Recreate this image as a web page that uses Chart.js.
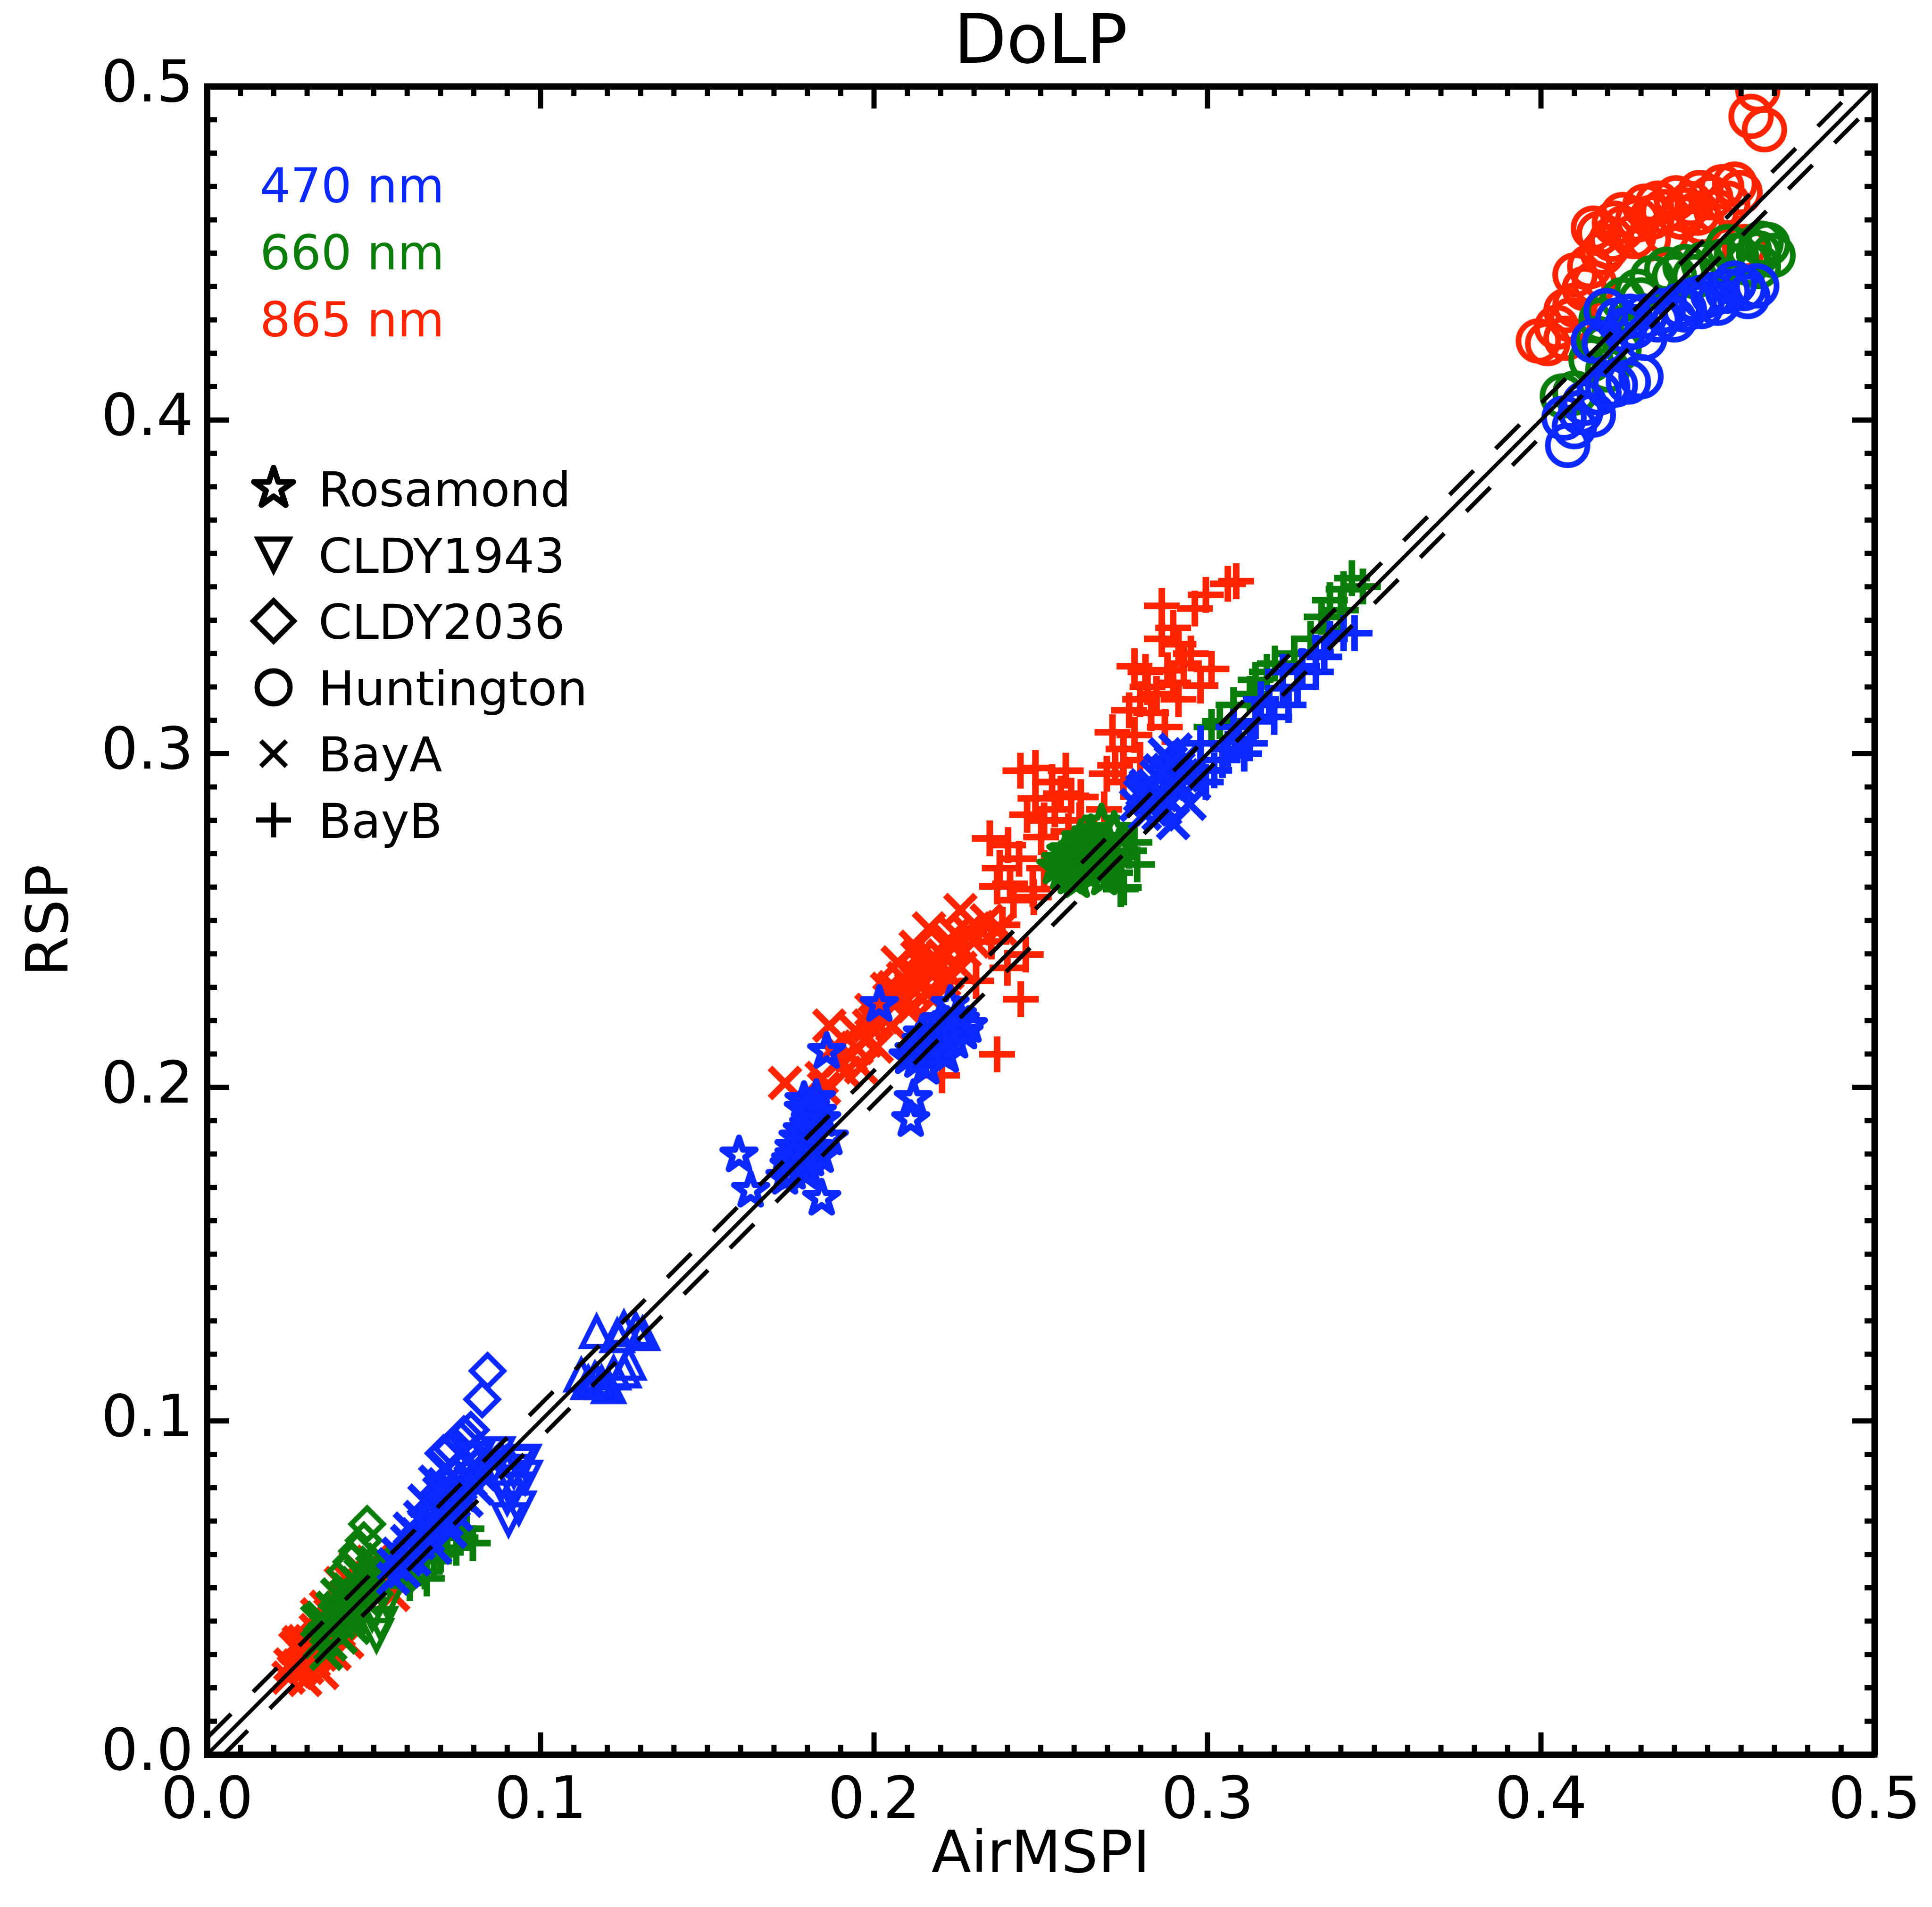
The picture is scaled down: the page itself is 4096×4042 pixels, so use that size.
<!DOCTYPE html>
<html><head><meta charset="utf-8">
<script src="https://cdn.jsdelivr.net/npm/chart.js@4.4.1/dist/chart.umd.min.js"></script>
<style>html,body{margin:0;padding:0;background:#fff;}canvas{display:block;}</style>
</head><body>
<canvas id="c" width="4096" height="4042"></canvas>
<script>
// ---------------- data (AirMSPI x, RSP y) ----------------
const oneToOne   = [[0,0],[0.5,0.5]];
const upperBound = [[0,0.005],[0.495,0.5]];
const lowerBound = [[0.005,0],[0.5,0.495]];

const wavelengthLabels = ['470 nm','660 nm','865 nm'];
const siteLabels = ['Rosamond','CLDY1943','CLDY2036','Huntington','BayA','BayB'];
const axisTicks = [0.0,0.1,0.2,0.3,0.4,0.5];

const rosamondBlue = [[0.1595,0.1797],[0.1630,0.1691],[0.1843,0.1667],[0.1858,0.2107],[0.2016,0.2248],[0.2118,0.1966],[0.2110,0.1903],
 [0.1788,0.1934],[0.1804,0.1887],[0.1827,0.1966],[0.1772,0.1848],[0.1756,0.1745],[0.1733,0.1730],[0.1866,0.1848],[0.1811,0.1785],
 [0.1843,0.1903],[0.1780,0.1800],[0.1790,0.1960],[0.1750,0.1780],[0.1820,0.1820],[0.1800,0.1760],[0.1760,0.1820],
 [0.2141,0.2138],[0.2102,0.2091],[0.2181,0.2170],[0.2220,0.2185],[0.2259,0.2201],[0.2196,0.2107],[0.2243,0.2138],[0.2228,0.2248],
 [0.2157,0.2060],[0.2283,0.2185],[0.2170,0.2120],[0.2210,0.2150],[0.2130,0.2080],[0.2200,0.2200],
 [0.1745,0.1765],[0.1775,0.1790],[0.1795,0.1830],[0.1815,0.1870],[0.1830,0.1925],[0.1810,0.1940],[0.1785,0.1870],[0.1760,0.1795],
 [0.1840,0.1795],[0.1795,0.1745],[0.2165,0.2105],[0.2190,0.2135],[0.2235,0.2170],[0.2270,0.2165],[0.2215,0.2095],[0.2145,0.2160],
 [0.2250,0.2215],[0.2120,0.2110]];
const rosamondGreen = [[0.2583,0.2709],[0.2624,0.2668],[0.2649,0.2751],[0.2682,0.2792],[0.2715,0.2685],[0.2690,0.2627],[0.2608,0.2619],
 [0.2567,0.2643],[0.2666,0.2685],[0.2600,0.2700],[0.2640,0.2720],[0.2700,0.2740],[0.2630,0.2650],[0.2560,0.2680],[0.2720,0.2770],
 [0.2575,0.2705],[0.2610,0.2690],[0.2655,0.2700],[0.2690,0.2715],[0.2620,0.2745],[0.2670,0.2650],[0.2700,0.2660],[0.2590,0.2630],
 [0.2735,0.2720],[0.2650,0.2760],[0.2545,0.2660]];

const cldy1943Blue = [[0.0935,0.0874],[0.0923,0.0797],[0.0935,0.0740],[0.0904,0.0705],[0.0885,0.0818],[0.0954,0.0832],[0.0872,0.0903],
 [0.0810,0.0889],[0.0900,0.0770],[0.0920,0.0850],[0.0860,0.0860],[0.0950,0.0880]];
const cldy1943BlueUp = [[0.1168,0.1267],[0.1250,0.1279],[0.1286,0.1273],[0.1306,0.1261],[0.1230,0.1255],[0.1122,0.1137],[0.1163,0.1126],
 [0.1250,0.1149],[0.1183,0.1114],[0.1219,0.1143],[0.1265,0.1172],[0.1168,0.1120],[0.1204,0.1102],[0.1143,0.1114]];
const cldy1943Green = [[0.0508,0.0358],[0.0520,0.0394],[0.0495,0.0422],[0.0540,0.0460]];

const cldy2036Blue = [[0.0841,0.1150],[0.0825,0.1065],[0.0791,0.0973],[0.0759,0.0945],[0.0734,0.0917],[0.0709,0.0903],[0.0770,0.0960]];
const cldy2036Green = [[0.0480,0.0691],[0.0470,0.0642],[0.0433,0.0578],[0.0414,0.0549],[0.0450,0.0610]];

const huntingtonBlue = [[0.4647,0.4402],[0.4608,0.4394],[0.4559,0.4386],[0.4515,0.4377],[0.4487,0.4369],[0.4460,0.4361],[0.4416,0.4344],
 [0.4366,0.4328],[0.4311,0.4311],[0.4267,0.4311],[0.4195,0.4328],[0.4157,0.4237],[0.4311,0.4245],[0.4300,0.4130],[0.4262,0.4114],
 [0.4223,0.4105],[0.4174,0.4081],[0.4119,0.4023],[0.4069,0.4006],[0.4080,0.3924],[0.4157,0.4015],[0.4100,0.3980],[0.4130,0.4050],
 [0.4400,0.4300],[0.4530,0.4350],[0.4250,0.4270],
 [0.4580,0.4410],[0.4620,0.4370],[0.4480,0.4340],[0.4430,0.4330],[0.4350,0.4300],[0.4280,0.4280],[0.4230,0.4300],[0.4190,0.4230],
 [0.4200,0.4100]];
const huntingtonGreen = [[0.4680,0.4526],[0.4696,0.4493],[0.4652,0.4501],[0.4652,0.4460],[0.4625,0.4509],[0.4586,0.4493],[0.4542,0.4476],
 [0.4487,0.4468],[0.4432,0.4460],[0.4377,0.4452],[0.4333,0.4427],[0.4289,0.4386],[0.4245,0.4361],[0.4201,0.4328],[0.4168,0.4245],
 [0.4190,0.4221],[0.4234,0.4212],[0.4064,0.4072],[0.4102,0.4081],[0.4150,0.4180],[0.4200,0.4150],
 [0.4560,0.4520],[0.4620,0.4470],[0.4460,0.4430],[0.4400,0.4430],[0.4300,0.4360],[0.4180,0.4300],[0.4660,0.4530]];
const huntingtonRed = [[0.4650,0.4990],[0.4630,0.4910],[0.4670,0.4870],
 [0.3992,0.4237],[0.4020,0.4229],[0.4075,0.4245],[0.4047,0.4278],[0.4075,0.4328],[0.4102,0.4344],[0.4130,0.4394],[0.4102,0.4435],
 [0.4146,0.4460],[0.4185,0.4501],[0.4157,0.4575],[0.4174,0.4559],[0.4212,0.4542],[0.4245,0.4575],[0.4245,0.4616],[0.4278,0.4550],
 [0.4322,0.4542],[0.4311,0.4641],[0.4333,0.4608],[0.4366,0.4625],[0.4377,0.4559],[0.4405,0.4666],[0.4421,0.4608],[0.4449,0.4649],
 [0.4476,0.4682],[0.4482,0.4592],[0.4509,0.4666],[0.4526,0.4625],[0.4542,0.4699],[0.4581,0.4707],[0.4597,0.4682],[0.4610,0.4520],
 [0.4220,0.4590],[0.4290,0.4600],[0.4350,0.4650],[0.4430,0.4630],[0.4560,0.4650],[0.4470,0.4620],[0.4160,0.4410],[0.4090,0.4300],
 [0.4200,0.4520]];

const bayABlue = [[0.2798,0.2874],[0.2847,0.2932],[0.2872,0.2998],[0.2913,0.2957],[0.2831,0.2833],[0.2897,0.2792],[0.2946,0.2850],
 [0.2815,0.2905],[0.2862,0.2876],[0.2884,0.2951],[0.2921,0.2903],[0.2853,0.2818],[0.2904,0.3012],[0.2952,0.2941],[0.2826,0.2862],
 [0.2873,0.2834],[0.2786,0.2846],[0.2935,0.2987],
 [0.2805,0.2890],[0.2838,0.2905],[0.2858,0.2950],[0.2890,0.2975],[0.2925,0.2935],[0.2880,0.2865],[0.2842,0.2870],[0.2895,0.2912],
 [0.2812,0.2820],[0.2960,0.2910],
 [0.0558,0.0528],[0.0596,0.0585],[0.0634,0.0634],[0.0671,0.0691],[0.0703,0.0747],[0.0734,0.0804],[0.0778,0.0846],[0.0810,0.0861],
 [0.0841,0.0889],[0.0652,0.0761],[0.0684,0.0818],[0.0715,0.0860],[0.0608,0.0677],[0.0747,0.0719],[0.0778,0.0761],[0.0684,0.0620],
 [0.0810,0.0797],[0.0590,0.0549],[0.0621,0.0585],[0.0662,0.0655],[0.0718,0.0702],[0.0757,0.0778],[0.0639,0.0712],[0.0573,0.0602],
 [0.0696,0.0785],[0.0790,0.0820],[0.0729,0.0668],
 [0.0600,0.0640],[0.0650,0.0690],[0.0700,0.0740],[0.0740,0.0760],[0.0760,0.0810],[0.0820,0.0840],[0.0680,0.0700],[0.0630,0.0660],
 [0.0710,0.0810],[0.0780,0.0880],[0.0860,0.0880],[0.0560,0.0570]];
const bayAGreen = [[0.0338,0.0337],[0.0382,0.0408],[0.0420,0.0479],[0.0451,0.0514],[0.0495,0.0549],[0.0527,0.0585],[0.0432,0.0408],
 [0.0470,0.0465],[0.0401,0.0351],[0.0357,0.0302],[0.0360,0.0380],[0.0400,0.0440],[0.0440,0.0450],[0.0480,0.0500],[0.0390,0.0480],
 [0.0330,0.0400],[0.0510,0.0520],[0.0460,0.0540],[0.0370,0.0330],
 [0.0350,0.0350],[0.0395,0.0395],[0.0415,0.0430],[0.0455,0.0480],[0.0490,0.0520],[0.0505,0.0575],[0.0425,0.0495],[0.0375,0.0440],
 [0.0440,0.0380],[0.0465,0.0430],[0.0345,0.0410],[0.0550,0.0560],[0.0580,0.0540],[0.0600,0.0560]];
const bayARed = [[0.1733,0.2013],[0.1843,0.2028],[0.1882,0.2122],[0.1944,0.2170],[0.1992,0.2232],[0.2039,0.2295],[0.2087,0.2327],
 [0.2125,0.2421],[0.2180,0.2390],[0.2228,0.2437],[0.2259,0.2531],[0.2338,0.2500],[0.2377,0.2476],[0.2220,0.2343],[0.2149,0.2311],
 [0.2102,0.2232],[0.2055,0.2185],[0.2008,0.2122],[0.1961,0.2060],[0.1913,0.2044],[0.1866,0.2185],[0.2180,0.2264],[0.2259,0.2358],
 [0.2298,0.2437],[0.1850,0.1997],[0.2165,0.2476],[0.2071,0.2374],[0.2003,0.2196],[0.2046,0.2262],[0.2112,0.2297],[0.2148,0.2362],
 [0.2207,0.2395],[0.2243,0.2462],[0.1948,0.2118],[0.2118,0.2243],[0.2272,0.2408],
 [0.1900,0.2080],[0.1975,0.2140],[0.2025,0.2210],[0.2085,0.2270],[0.2135,0.2330],[0.2190,0.2350],[0.2240,0.2420],[0.2280,0.2470],
 [0.2060,0.2300],[0.2160,0.2280],[0.2210,0.2320],[0.1985,0.2185],[0.1930,0.2095],[0.2130,0.2390],[0.2310,0.2480],
 [0.0244,0.0231],[0.0275,0.0267],[0.0307,0.0302],[0.0326,0.0373],[0.0357,0.0443],[0.0401,0.0514],[0.0446,0.0564],[0.0495,0.0578],
 [0.0382,0.0302],[0.0420,0.0337],[0.0294,0.0224],[0.0527,0.0514],[0.0558,0.0479],[0.0275,0.0337],[0.0250,0.0270],[0.0300,0.0260],
 [0.0340,0.0300],[0.0360,0.0360],[0.0380,0.0400],[0.0330,0.0420],[0.0290,0.0340],
 [0.0260,0.0250],[0.0285,0.0300],[0.0310,0.0340],[0.0320,0.0280],[0.0350,0.0320],[0.0370,0.0420],[0.0410,0.0470],[0.0430,0.0520],
 [0.0470,0.0540],[0.0510,0.0560],[0.0540,0.0530],[0.0395,0.0370],[0.0345,0.0245],[0.0265,0.0320],[0.0420,0.0410]];

const bayBBlue = [[0.2995,0.2915],[0.3045,0.2981],[0.3094,0.3039],[0.3144,0.3097],[0.3185,0.3146],[0.3226,0.3196],[0.3284,0.3262],
 [0.3325,0.3303],[0.3367,0.3344],[0.3408,0.3361],[0.3325,0.3245],[0.3243,0.3146],[0.3127,0.3031],[0.3061,0.3014],[0.2979,0.3031],
 [0.3078,0.3080],[0.3160,0.3163],[0.3226,0.3245],[0.3020,0.2950],[0.3110,0.3000],[0.3200,0.3110],[0.3270,0.3200],[0.3350,0.3290],
 [0.3441,0.3361]];
const bayBGreen = [[0.3433,0.3526],[0.3408,0.3493],[0.3466,0.3501],[0.3367,0.3460],[0.3342,0.3410],[0.3309,0.3344],[0.3358,0.3369],
 [0.3202,0.3270],[0.3178,0.3245],[0.3144,0.3221],[0.3127,0.3179],[0.3078,0.3146],[0.3037,0.3097],[0.3012,0.3080],[0.2765,0.2709],
 [0.2789,0.2668],[0.2740,0.2594],[0.2781,0.2734],[0.2723,0.2643],[0.2749,0.2599],[0.3260,0.3300],[0.3400,0.3430],
 [0.0747,0.0620],[0.0797,0.0634],[0.0778,0.0677],[0.0653,0.0549],[0.0608,0.0514],[0.0659,0.0528],
 [0.0700,0.0600],[0.0720,0.0650],[0.0680,0.0580],[0.0760,0.0650]];
const bayBRed = [[0.3086,0.3517],[0.3061,0.3509],[0.2995,0.3476],[0.2962,0.3435],[0.2863,0.3443],[0.2897,0.3377],[0.2863,0.3344],
 [0.2913,0.3328],[0.2781,0.3262],[0.2814,0.3245],[0.2929,0.3270],[0.3012,0.3254],[0.2979,0.3204],[0.2897,0.3212],[0.2847,0.3179],
 [0.2798,0.3163],[0.2765,0.3130],[0.2831,0.3122],[0.2872,0.3080],[0.2715,0.3064],[0.2781,0.3056],[0.2748,0.3014],[0.2798,0.2981],
 [0.2723,0.2965],[0.2698,0.2940],[0.2748,0.2915],[0.2913,0.3163],
 [0.2484,0.2957],[0.2575,0.2949],[0.2534,0.2915],[0.2591,0.2874],[0.2484,0.2866],[0.2459,0.2817],[0.2542,0.2833],[0.2616,0.2800],
 [0.2690,0.2833],[0.2402,0.2726],[0.2501,0.2750],[0.2583,0.2767],[0.2435,0.2685],[0.2369,0.2602],[0.2476,0.2594],[0.2418,0.2561],
 [0.2385,0.2487],[0.2352,0.2437],
 [0.2440,0.2264],[0.2369,0.2099],[0.2455,0.2398],[0.2408,0.2610],[0.2479,0.2570],[0.2510,0.2657],[0.2377,0.2657],[0.2400,0.2358],
 [0.2204,0.2036],[0.2306,0.2319],[0.2347,0.2746],[0.2439,0.2949],
 [0.2880,0.3250],[0.2950,0.3300],[0.2820,0.3200],[0.2560,0.2880],[0.2510,0.2800],[0.2620,0.2870]];

// ---------------- styles ----------------
const BLUE = '#0a28ff', GREEN = '#0b7d0b', RED = '#ff2400';
const wavelengthColors = [BLUE, GREEN, RED];
const FONT = "'DejaVu Sans', sans-serif";

function marker(shape, color, size, lw) {
  const pad = lw * 2 + 4;
  const dim = Math.ceil(2 * size + 2 * pad);
  const c = document.createElement('canvas');
  c.width = dim; c.height = dim;
  const g = c.getContext('2d');
  g.translate(dim / 2, dim / 2);
  g.strokeStyle = color; g.lineWidth = lw; g.lineCap = 'butt'; g.lineJoin = 'miter';
  g.beginPath();
  if (shape === 'circle') { g.arc(0, 0, size, 0, 2 * Math.PI); }
  else if (shape === 'star') {
    g.lineJoin = 'round';
    for (let i = 0; i < 10; i++) {
      const r = i % 2 ? size * 0.382 : size;
      const a = -Math.PI / 2 + i * Math.PI / 5;
      const px = r * Math.cos(a), py = r * Math.sin(a);
      if (i) g.lineTo(px, py); else g.moveTo(px, py);
    }
    g.closePath();
  }
  else if (shape === 'triUp') { g.moveTo(0, -size); g.lineTo(size, size); g.lineTo(-size, size); g.closePath(); }
  else if (shape === 'triDown') { g.moveTo(0, size); g.lineTo(size, -size); g.lineTo(-size, -size); g.closePath(); }
  else if (shape === 'diamond') { g.moveTo(0, -size); g.lineTo(size, 0); g.lineTo(0, size); g.lineTo(-size, 0); g.closePath(); }
  else if (shape === 'x') { g.moveTo(-size, -size); g.lineTo(size, size); g.moveTo(size, -size); g.lineTo(-size, size); }
  else if (shape === 'plus') { g.moveTo(-size, 0); g.lineTo(size, 0); g.moveTo(0, -size); g.lineTo(0, size); }
  g.stroke();
  return c;
}
const SZ = {star: [37, 13], triUp: [31, 11], triDown: [31, 11], diamond: [34, 11], circle: [42, 12], x: [32, 14], plus: [38, 14]};
function mk(shape, color) { return marker(shape, color, SZ[shape][0], SZ[shape][1]); }

const toXY = arr => arr.map(p => ({x: p[0], y: p[1]}));
const datasets = [];
function addLine(arr, dashed) {
  datasets.push({label: dashed ? 'bound' : '1:1', data: toXY(arr), showLine: true, borderColor: '#000',
    borderWidth: dashed ? 9 : 8, borderDash: dashed ? [72, 66] : [], pointRadius: 0, clip: 0, fill: false});
}
function addPts(label, arr, shape, color) {
  datasets.push({label, data: toXY(arr), showLine: false, pointStyle: mk(shape, color), pointRadius: 5, clip: 0});
}
addLine(oneToOne, false);
addLine(upperBound, true);
addLine(lowerBound, true);
// blue on top, then green, then red
addPts('Rosamond 470', rosamondBlue, 'star', BLUE);
addPts('CLDY1943 470', cldy1943Blue, 'triDown', BLUE);
addPts('CLDY1943 470b', cldy1943BlueUp, 'triUp', BLUE);
addPts('CLDY2036 470', cldy2036Blue, 'diamond', BLUE);
addPts('Huntington 470', huntingtonBlue, 'circle', BLUE);
addPts('BayA 470', bayABlue, 'x', BLUE);
addPts('BayB 470', bayBBlue, 'plus', BLUE);
addPts('Rosamond 660', rosamondGreen, 'star', GREEN);
addPts('CLDY1943 660', cldy1943Green, 'triDown', GREEN);
addPts('CLDY2036 660', cldy2036Green, 'diamond', GREEN);
addPts('Huntington 660', huntingtonGreen, 'circle', GREEN);
addPts('BayA 660', bayAGreen, 'x', GREEN);
addPts('BayB 660', bayBGreen, 'plus', GREEN);
addPts('Huntington 865', huntingtonRed, 'circle', RED);
addPts('BayA 865', bayARed, 'x', RED);
addPts('BayB 865', bayBRed, 'plus', RED);

const legendMarkers = [
  marker('star', '#000', 44, 12), marker('triDown', '#000', 33, 11), marker('diamond', '#000', 43, 11),
  marker('circle', '#000', 35, 11), marker('x', '#000', 27, 10), marker('plus', '#000', 37, 11)];

const framePlugin = {
  id: 'frameTicks',
  afterDraw(chart) {
    const ctx = chart.ctx, xs = chart.scales.x, ys = chart.scales.y, a = chart.chartArea;
    ctx.save();
    ctx.strokeStyle = '#000'; ctx.lineCap = 'butt';
    ctx.lineWidth = 11;
    for (let i = 0; i <= 50; i++) {
      const v = i / 100, L = (i % 10 === 0) ? 47 : 21;
      const px = xs.getPixelForValue(v), py = ys.getPixelForValue(v);
      ctx.beginPath();
      ctx.moveTo(px, a.bottom); ctx.lineTo(px, a.bottom - L);
      ctx.moveTo(px, a.top); ctx.lineTo(px, a.top + L);
      ctx.moveTo(a.left, py); ctx.lineTo(a.left + L, py);
      ctx.moveTo(a.right, py); ctx.lineTo(a.right - L, py);
      ctx.stroke();
    }
    ctx.lineWidth = 13; ctx.lineJoin = 'miter';
    ctx.strokeRect(a.left, a.top, a.right - a.left, a.bottom - a.top);
    // legends
    ctx.font = '102px ' + FONT; ctx.textAlign = 'left'; ctx.textBaseline = 'alphabetic';
    wavelengthLabels.forEach((t, i) => { ctx.fillStyle = wavelengthColors[i]; ctx.fillText(t, a.left + 112, a.top + 246 + i * 142); });
    siteLabels.forEach((t, i) => {
      const by = a.top + 890 + i * 140.6;
      ctx.fillStyle = '#000'; ctx.fillText(t, a.left + 236, by);
      const m = legendMarkers[i];
      ctx.drawImage(m, a.left + 141 - m.width / 2, by - 38 - m.height / 2);
    });
    ctx.restore();
  }
};

const tickFont = {family: FONT, size: 123};
const commonBorder = {display: true, color: '#000', width: 13, z: 1};
new Chart(document.getElementById('c'), {
  type: 'scatter',
  data: {datasets},
  options: {
    responsive: false, animation: false, devicePixelRatio: 1, events: [],
    layout: {padding: 0},
    plugins: {legend: {display: false}, tooltip: {enabled: false}, title: {display: false}},
    scales: {
      x: {type: 'linear', position: 'bottom', min: 0, max: 0.5,
        afterFit: s => { s.height = 323; },
        afterBuildTicks: s => { s.ticks = axisTicks.map(v => ({value: v})); },
        ticks: {callback: v => Number(v).toFixed(1), font: tickFont, color: '#000', padding: 20, maxRotation: 0, autoSkip: false},
        grid: {display: false}, border: commonBorder,
        title: {display: true, text: 'AirMSPI', font: {family: FONT, size: 123}, color: '#000', padding: {top: 0, bottom: 32}}},
      y: {type: 'linear', position: 'left', min: 0, max: 0.5,
        afterFit: s => { s.width = 439; },
        afterBuildTicks: s => { s.ticks = axisTicks.map(v => ({value: v})); },
        ticks: {callback: v => Number(v).toFixed(1), font: tickFont, color: '#000', padding: 21, autoSkip: false},
        grid: {display: false}, border: commonBorder,
        title: {display: true, text: 'RSP', font: {family: FONT, size: 123}, color: '#000', padding: {top: 37, bottom: 0}}},
      x2: {type: 'linear', position: 'top', min: 0, max: 0.5,
        afterFit: s => { s.height = 183; },
        ticks: {display: false}, grid: {display: false}, border: commonBorder,
        title: {display: true, text: 'DoLP', font: {family: FONT, size: 145}, color: '#000', padding: {top: 8, bottom: 0}}},
      y2: {type: 'linear', position: 'right', min: 0, max: 0.5,
        afterFit: s => { s.width = 122; },
        ticks: {display: false}, grid: {display: false}, border: commonBorder}
    }
  },
  plugins: [framePlugin]
});
</script>
</body></html>
